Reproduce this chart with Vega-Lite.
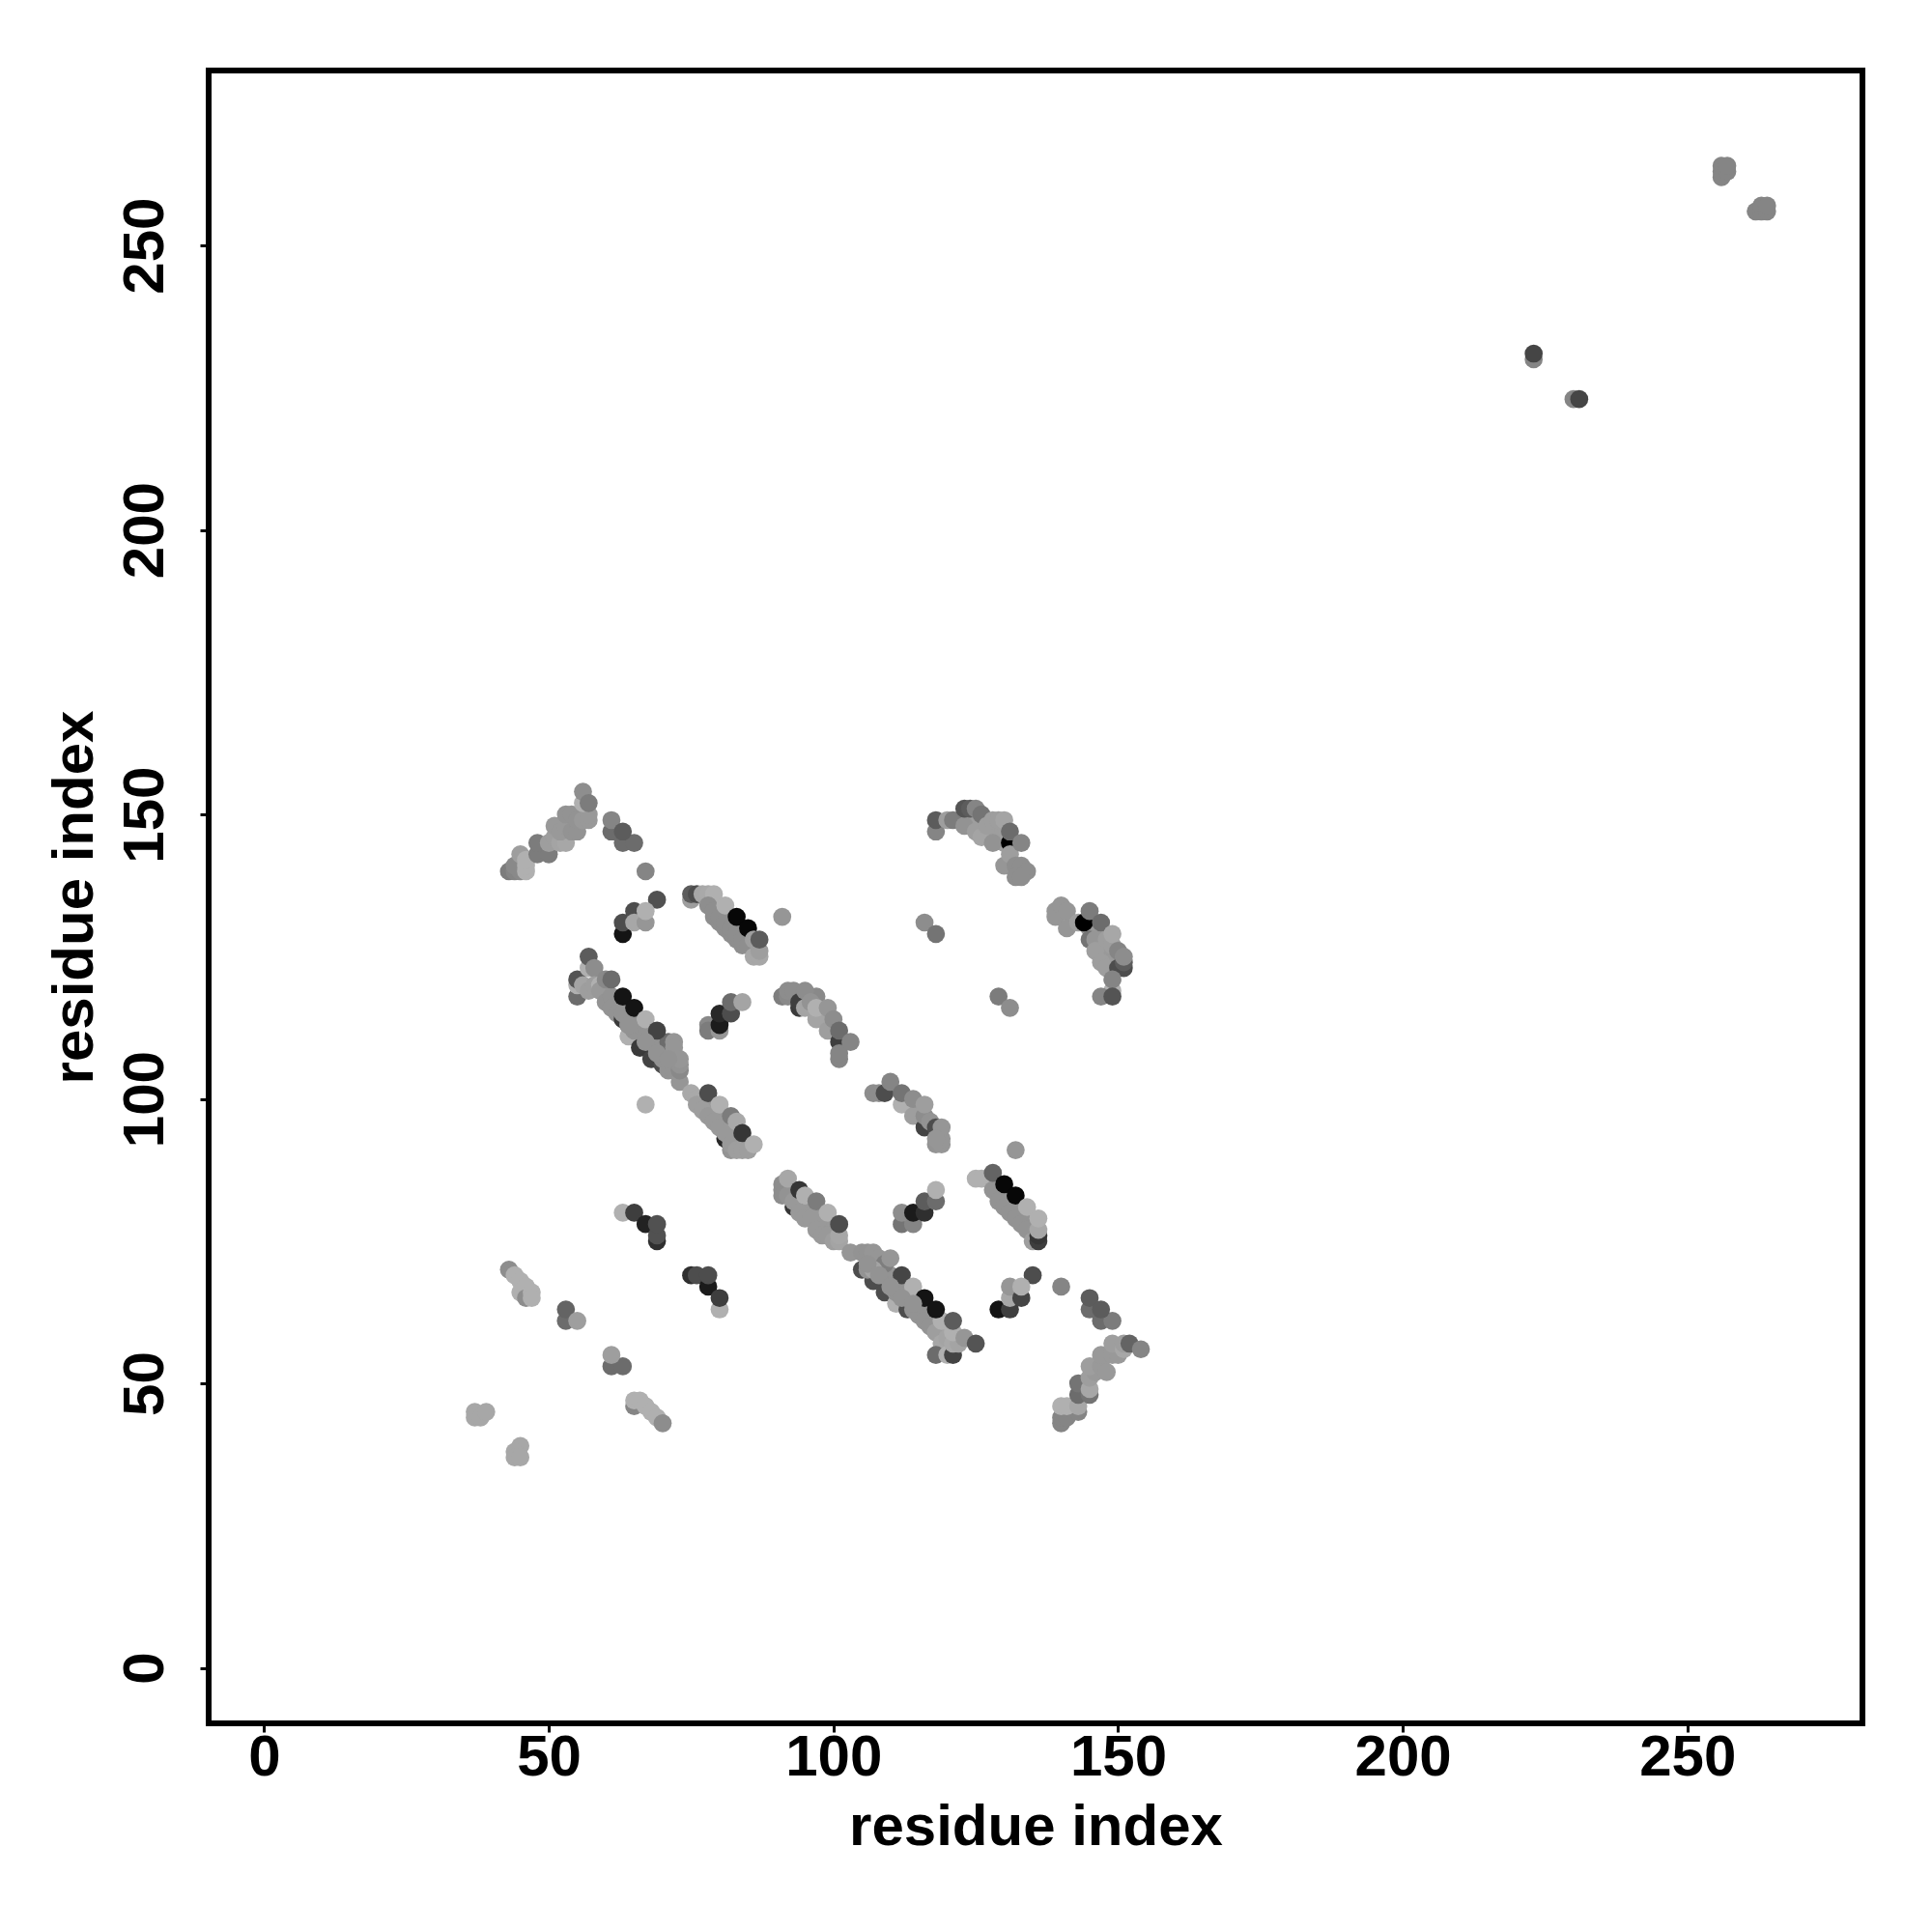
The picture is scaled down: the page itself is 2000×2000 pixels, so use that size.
{"$schema":"https://vega.github.io/schema/vega-lite/v6.json","width":1712,"height":1711,"autosize":{"type":"none"},"padding":{"left":216,"top":73,"right":72,"bottom":216},"background":"white","config":{"view":{"stroke":"#000000","strokeWidth":6}},"data":{"values":[
{"x":61,"y":118,"s":150},{"x":62,"y":117,"s":150},{"x":63,"y":116,"s":150},{"x":64,"y":115,"s":150},{"x":65,"y":114,"s":150},{"x":66,"y":113,"s":150},{"x":67,"y":112,"s":150},{"x":68,"y":111,"s":150},{"x":69,"y":110,"s":150},{"x":70,"y":109,"s":150},{"x":71,"y":108,"s":150},{"x":72,"y":107,"s":150},
{"x":77,"y":100,"s":155},{"x":78,"y":99,"s":155},{"x":79,"y":98,"s":155},{"x":80,"y":97,"s":155},{"x":81,"y":96,"s":155},{"x":82,"y":95,"s":155},{"x":83,"y":94,"s":155},{"x":84,"y":93,"s":155},
{"x":93,"y":84,"s":155},{"x":94,"y":83,"s":155},{"x":95,"y":82,"s":155},{"x":96,"y":81,"s":155},{"x":97,"y":80,"s":155},{"x":98,"y":79,"s":155},{"x":99,"y":78,"s":155},{"x":100,"y":77,"s":155},
{"x":109,"y":70,"s":150},{"x":110,"y":69,"s":150},{"x":111,"y":68,"s":150},{"x":112,"y":67,"s":150},{"x":113,"y":66,"s":150},{"x":114,"y":65,"s":150},{"x":115,"y":64,"s":150},{"x":116,"y":63,"s":150},{"x":117,"y":62,"s":150},{"x":118,"y":61,"s":150},{"x":108,"y":69,"s":150},{"x":109,"y":68,"s":150},{"x":112,"y":65,"s":150},{"x":115,"y":62,"s":150},{"x":118,"y":59,"s":160},
{"x":79,"y":132,"s":145},{"x":80,"y":131,"s":145},{"x":81,"y":130,"s":145},{"x":82,"y":129,"s":145},{"x":83,"y":128,"s":145},{"x":84,"y":127,"s":145},{"x":79,"y":134,"s":145},{"x":80,"y":133,"s":145},{"x":81,"y":132,"s":145},{"x":82,"y":131,"s":145},{"x":83,"y":130,"s":145},{"x":84,"y":129,"s":145},{"x":85,"y":128,"s":145},
{"x":129,"y":84,"s":150},{"x":130,"y":83,"s":150},{"x":131,"y":82,"s":150},{"x":132,"y":81,"s":150},{"x":133,"y":80,"s":150},{"x":134,"y":79,"s":150},{"x":135,"y":78,"s":150},
{"x":125,"y":149,"s":160},{"x":126,"y":148,"s":160},{"x":127,"y":147,"s":160},{"x":128,"y":147,"s":160},{"x":129,"y":146,"s":160},{"x":130,"y":145,"s":160},{"x":145,"y":130,"s":155},{"x":146,"y":129,"s":155},{"x":147,"y":128,"s":155},{"x":147,"y":126,"s":155},{"x":148,"y":125,"s":155},{"x":149,"y":124,"s":155},{"x":114,"y":99,"s":150},{"x":115,"y":98,"s":150},{"x":96,"y":118,"s":140},{"x":97,"y":118,"s":140},{"x":98,"y":115,"s":150},
{"x":43,"y":140,"s":128},{"x":44,"y":140,"s":135},{"x":45,"y":140,"s":140},{"x":44,"y":141,"s":140},{"x":45,"y":143,"s":160},{"x":46,"y":140,"s":176},{"x":46,"y":141,"s":176},{"x":46,"y":142,"s":176},{"x":48,"y":143,"s":128},{"x":50,"y":143,"s":128},{"x":48,"y":145,"s":128},{"x":50,"y":145,"s":160},{"x":51,"y":146,"s":160},{"x":52,"y":145,"s":165},{"x":53,"y":145,"s":168},{"x":51,"y":148,"s":155},{"x":52,"y":147,"s":155},{"x":53,"y":148,"s":155},{"x":54,"y":147,"s":150},{"x":55,"y":147,"s":150},{"x":53,"y":150,"s":150},{"x":54,"y":150,"s":150},{"x":55,"y":149,"s":150},{"x":56,"y":149,"s":155},{"x":57,"y":149,"s":155},{"x":57,"y":150,"s":155},{"x":56,"y":152,"s":176},{"x":56,"y":154,"s":145},{"x":57,"y":152,"s":128},
{"x":61,"y":147,"s":112},{"x":61,"y":149,"s":136},{"x":63,"y":145,"s":112},{"x":65,"y":145,"s":112},{"x":63,"y":147,"s":96},{"x":67,"y":140,"s":136},{"x":69,"y":135,"s":85},{"x":65,"y":133,"s":80},{"x":63,"y":129,"s":16},{"x":63,"y":131,"s":80},{"x":65,"y":131,"s":168},{"x":67,"y":131,"s":152},{"x":67,"y":133,"s":176},
{"x":75,"y":135,"s":160},{"x":75,"y":136,"s":96},{"x":76,"y":136,"s":80},{"x":77,"y":136,"s":168},{"x":78,"y":136,"s":170},{"x":79,"y":136,"s":176},{"x":78,"y":134,"s":145},{"x":79,"y":133,"s":145},{"x":80,"y":132,"s":145},{"x":81,"y":131,"s":145},{"x":82,"y":130,"s":145},{"x":83,"y":129,"s":145},{"x":84,"y":128,"s":145},{"x":85,"y":127,"s":145},{"x":81,"y":134,"s":176},{"x":83,"y":132,"s":5},{"x":85,"y":130,"s":5},{"x":86,"y":125,"s":168},{"x":87,"y":125,"s":168},{"x":87,"y":126,"s":160},{"x":86,"y":128,"s":160},{"x":87,"y":128,"s":96},{"x":91,"y":132,"s":152},
{"x":55,"y":118,"s":112},{"x":55,"y":120,"s":176},{"x":55,"y":121,"s":88},{"x":56,"y":120,"s":165},{"x":57,"y":119,"s":160},{"x":57,"y":123,"s":176},{"x":57,"y":125,"s":96},{"x":58,"y":123,"s":144},{"x":58,"y":120,"s":160},{"x":59,"y":120,"s":176},{"x":59,"y":119,"s":155},{"x":60,"y":121,"s":140},{"x":60,"y":117,"s":150},{"x":61,"y":118,"s":150},{"x":61,"y":121,"s":112},{"x":61,"y":116,"s":150},{"x":62,"y":115,"s":150},{"x":63,"y":114,"s":60},{"x":63,"y":115,"s":150},{"x":64,"y":113,"s":150},{"x":64,"y":111,"s":176},{"x":65,"y":112,"s":150},{"x":66,"y":109,"s":60},{"x":66,"y":113,"s":150},{"x":67,"y":111,"s":150},{"x":68,"y":107,"s":70},{"x":68,"y":110,"s":150},{"x":69,"y":109,"s":150},{"x":70,"y":106,"s":80},{"x":70,"y":107,"s":150},{"x":71,"y":105,"s":150},{"x":71,"y":110,"s":112},{"x":72,"y":105,"s":150},{"x":72,"y":107,"s":165},{"x":73,"y":103,"s":152},{"x":73,"y":105,"s":140},{"x":73,"y":106,"s":150},{"x":72,"y":110,"s":152},{"x":72,"y":109,"s":152},{"x":73,"y":107,"s":152},{"x":63,"y":118,"s":16},{"x":65,"y":116,"s":16},{"x":67,"y":114,"s":176},{"x":69,"y":112,"s":70},
{"x":75,"y":101,"s":170},{"x":76,"y":100,"s":170},{"x":76,"y":99,"s":160},{"x":77,"y":98,"s":160},{"x":78,"y":97,"s":155},{"x":79,"y":96,"s":155},{"x":80,"y":95,"s":155},{"x":81,"y":93,"s":40},{"x":81,"y":94,"s":155},{"x":82,"y":91,"s":150},{"x":82,"y":92,"s":155},{"x":83,"y":91,"s":160},{"x":84,"y":91,"s":160},{"x":85,"y":91,"s":160},{"x":78,"y":101,"s":80},{"x":80,"y":99,"s":176},{"x":82,"y":97,"s":128},{"x":83,"y":96,"s":170},{"x":84,"y":94,"s":56},{"x":86,"y":92,"s":176},{"x":67,"y":99,"s":176},
{"x":63,"y":80,"s":176},{"x":65,"y":80,"s":64},{"x":67,"y":78,"s":32},{"x":69,"y":75,"s":48},{"x":69,"y":76,"s":85},{"x":69,"y":78,"s":85},{"x":75,"y":69,"s":48},{"x":76,"y":69,"s":80},{"x":78,"y":67,"s":24},{"x":78,"y":69,"s":80},{"x":80,"y":63,"s":176},{"x":80,"y":65,"s":64},
{"x":43,"y":70,"s":144},{"x":44,"y":69,"s":176},{"x":45,"y":68,"s":176},{"x":46,"y":67,"s":176},{"x":45,"y":66,"s":176},{"x":46,"y":65,"s":144},{"x":47,"y":66,"s":176},{"x":47,"y":65,"s":176},{"x":53,"y":61,"s":112},{"x":53,"y":63,"s":104},{"x":55,"y":61,"s":160},{"x":61,"y":53,"s":112},{"x":63,"y":53,"s":112},{"x":61,"y":55,"s":160},{"x":65,"y":46,"s":136},{"x":65,"y":47,"s":176},{"x":66,"y":47,"s":176},{"x":67,"y":46,"s":176},{"x":68,"y":45,"s":176},{"x":69,"y":44,"s":176},{"x":70,"y":43,"s":144},{"x":37,"y":45,"s":168},{"x":37,"y":44,"s":168},{"x":38,"y":44,"s":168},{"x":39,"y":45,"s":168},{"x":45,"y":39,"s":168},{"x":44,"y":38,"s":168},{"x":44,"y":37,"s":168},{"x":45,"y":37,"s":168},
{"x":78,"y":113,"s":140},{"x":78,"y":112,"s":128},{"x":80,"y":112,"s":152},{"x":80,"y":113,"s":24},{"x":80,"y":115,"s":40},{"x":82,"y":115,"s":80},{"x":82,"y":117,"s":112},{"x":84,"y":117,"s":165},
{"x":118,"y":147,"s":136},{"x":118,"y":149,"s":96},{"x":120,"y":149,"s":160},{"x":121,"y":149,"s":128},{"x":123,"y":148,"s":150},{"x":123,"y":151,"s":88},{"x":124,"y":151,"s":96},{"x":125,"y":147,"s":160},{"x":125,"y":151,"s":136},{"x":126,"y":146,"s":165},{"x":126,"y":150,"s":120},{"x":127,"y":148,"s":160},{"x":128,"y":145,"s":150},{"x":128,"y":149,"s":160},{"x":129,"y":149,"s":160},{"x":131,"y":145,"s":0},{"x":130,"y":141,"s":152},{"x":131,"y":143,"s":160},{"x":130,"y":149,"s":165},{"x":131,"y":147,"s":112},{"x":133,"y":145,"s":136},{"x":132,"y":141,"s":145},{"x":133,"y":141,"s":145},{"x":134,"y":140,"s":145},{"x":132,"y":139,"s":145},{"x":133,"y":139,"s":145},
{"x":116,"y":131,"s":144},{"x":118,"y":129,"s":120},{"x":129,"y":118,"s":128},{"x":131,"y":116,"s":144},
{"x":139,"y":132,"s":152},{"x":139,"y":133,"s":152},{"x":140,"y":134,"s":152},{"x":141,"y":133,"s":152},{"x":141,"y":130,"s":152},{"x":143,"y":131,"s":160},{"x":144,"y":131,"s":0},{"x":145,"y":128,"s":120},{"x":146,"y":128,"s":152},{"x":146,"y":126,"s":160},{"x":145,"y":133,"s":128},{"x":147,"y":131,"s":112},{"x":147,"y":124,"s":160},{"x":148,"y":123,"s":160},{"x":148,"y":128,"s":160},{"x":149,"y":127,"s":160},{"x":149,"y":129,"s":168},{"x":151,"y":123,"s":80},{"x":150,"y":123,"s":80},{"x":151,"y":124,"s":96},{"x":150,"y":126,"s":136},{"x":151,"y":125,"s":144},{"x":149,"y":119,"s":176},{"x":149,"y":121,"s":136},{"x":147,"y":118,"s":136},{"x":149,"y":118,"s":88},
{"x":91,"y":118,"s":130},{"x":92,"y":118,"s":140},{"x":92,"y":119,"s":144},{"x":93,"y":119,"s":144},{"x":94,"y":116,"s":60},{"x":94,"y":117,"s":64},{"x":95,"y":116,"s":165},{"x":95,"y":119,"s":144},{"x":96,"y":117,"s":150},{"x":97,"y":114,"s":165},{"x":97,"y":116,"s":176},{"x":99,"y":112,"s":160},{"x":99,"y":116,"s":152},{"x":100,"y":114,"s":144},{"x":101,"y":110,"s":64},{"x":101,"y":107,"s":136},{"x":101,"y":108,"s":136},{"x":101,"y":112,"s":112},{"x":103,"y":110,"s":136},
{"x":107,"y":101,"s":144},{"x":108,"y":101,"s":144},{"x":109,"y":101,"s":80},{"x":110,"y":103,"s":136},{"x":112,"y":99,"s":176},{"x":112,"y":101,"s":120},{"x":114,"y":97,"s":160},{"x":114,"y":100,"s":144},{"x":116,"y":95,"s":70},{"x":116,"y":97,"s":144},{"x":116,"y":99,"s":160},{"x":117,"y":96,"s":150},{"x":118,"y":95,"s":80},{"x":118,"y":92,"s":150},{"x":119,"y":92,"s":152},{"x":119,"y":93,"s":152},{"x":119,"y":95,"s":152},{"x":118,"y":93,"s":152},
{"x":132,"y":91,"s":152},{"x":125,"y":86,"s":176},{"x":126,"y":86,"s":176},{"x":128,"y":84,"s":150},{"x":129,"y":82,"s":150},{"x":130,"y":81,"s":150},{"x":131,"y":80,"s":150},{"x":132,"y":79,"s":150},{"x":133,"y":78,"s":150},{"x":134,"y":77,"s":150},{"x":128,"y":87,"s":104},{"x":130,"y":85,"s":5},{"x":132,"y":83,"s":5},{"x":134,"y":81,"s":176},{"x":135,"y":75,"s":160},{"x":136,"y":75,"s":64},{"x":136,"y":76,"s":56},{"x":136,"y":77,"s":168},{"x":136,"y":79,"s":176},
{"x":112,"y":78,"s":120},{"x":114,"y":78,"s":136},{"x":112,"y":80,"s":144},{"x":114,"y":80,"s":24},{"x":116,"y":80,"s":48},{"x":116,"y":82,"s":96},{"x":118,"y":82,"s":112},{"x":118,"y":84,"s":176},
{"x":135,"y":69,"s":80},{"x":140,"y":67,"s":136},{"x":129,"y":63,"s":16},{"x":131,"y":63,"s":64},{"x":131,"y":65,"s":168},{"x":131,"y":67,"s":152},{"x":133,"y":65,"s":72},{"x":133,"y":67,"s":176},{"x":145,"y":63,"s":112},{"x":145,"y":65,"s":96},{"x":147,"y":61,"s":112},{"x":149,"y":61,"s":128},{"x":147,"y":63,"s":96},
{"x":140,"y":43,"s":136},{"x":140,"y":44,"s":136},{"x":141,"y":44,"s":136},{"x":143,"y":45,"s":136},{"x":140,"y":46,"s":176},{"x":141,"y":46,"s":176},{"x":143,"y":46,"s":168},{"x":143,"y":48,"s":112},{"x":145,"y":48,"s":120},{"x":143,"y":50,"s":120},{"x":145,"y":49,"s":168},{"x":145,"y":51,"s":160},{"x":146,"y":52,"s":155},{"x":145,"y":53,"s":160},{"x":147,"y":53,"s":155},{"x":148,"y":52,"s":155},{"x":147,"y":55,"s":155},{"x":149,"y":55,"s":155},{"x":150,"y":55,"s":155},{"x":149,"y":57,"s":160},{"x":151,"y":56,"s":168},{"x":151,"y":57,"s":160},{"x":152,"y":57,"s":104},{"x":154,"y":56,"s":136},
{"x":91,"y":85,"s":144},{"x":91,"y":84,"s":144},{"x":91,"y":83,"s":144},{"x":93,"y":81,"s":56},{"x":92,"y":83,"s":150},{"x":93,"y":82,"s":155},{"x":94,"y":80,"s":155},{"x":95,"y":79,"s":155},{"x":96,"y":79,"s":155},{"x":97,"y":77,"s":155},{"x":98,"y":76,"s":155},{"x":99,"y":76,"s":155},{"x":100,"y":75,"s":160},{"x":101,"y":75,"s":165},{"x":101,"y":76,"s":168},{"x":92,"y":86,"s":168},{"x":94,"y":84,"s":56},{"x":95,"y":83,"s":176},{"x":97,"y":82,"s":128},{"x":99,"y":80,"s":176},{"x":101,"y":78,"s":80},
{"x":103,"y":73,"s":152},{"x":105,"y":70,"s":80},{"x":107,"y":68,"s":80},{"x":109,"y":66,"s":80},{"x":105,"y":73,"s":150},{"x":106,"y":73,"s":150},{"x":107,"y":73,"s":152},{"x":108,"y":72,"s":152},{"x":109,"y":71,"s":130},{"x":110,"y":72,"s":152},{"x":106,"y":70,"s":150},{"x":107,"y":70,"s":165},{"x":110,"y":68,"s":150},{"x":111,"y":64,"s":176},{"x":111,"y":66,"s":150},{"x":113,"y":63,"s":80},{"x":113,"y":65,"s":150},{"x":114,"y":63,"s":150},{"x":115,"y":62,"s":150},{"x":116,"y":61,"s":150},{"x":117,"y":60,"s":150},{"x":118,"y":59,"s":160},{"x":119,"y":57,"s":168},{"x":120,"y":58,"s":165},{"x":119,"y":61,"s":176},{"x":112,"y":69,"s":72},{"x":114,"y":67,"s":176},{"x":116,"y":65,"s":16},{"x":118,"y":63,"s":16},{"x":118,"y":55,"s":112},{"x":120,"y":55,"s":176},{"x":121,"y":55,"s":70},{"x":121,"y":57,"s":170},{"x":122,"y":57,"s":165},{"x":121,"y":59,"s":176},{"x":121,"y":61,"s":96},{"x":123,"y":58,"s":152},{"x":125,"y":57,"s":88},
{"x":106,"y":71,"s":150},{"x":108,"y":69,"s":150},{"x":110,"y":67,"s":150},{"x":112,"y":65,"s":150},{"x":114,"y":64,"s":150},{"x":64,"y":113,"s":150},{"x":67,"y":110,"s":150},{"x":69,"y":108,"s":150},{"x":71,"y":107,"s":150},
{"x":223,"y":230,"s":136},{"x":223,"y":231,"s":72},{"x":230,"y":223,"s":136},{"x":231,"y":223,"s":72},{"x":256,"y":262,"s":136},{"x":256,"y":263,"s":136},{"x":256,"y":264,"s":136},{"x":257,"y":263,"s":136},{"x":257,"y":264,"s":136},{"x":262,"y":256,"s":136},{"x":263,"y":256,"s":136},{"x":263,"y":257,"s":136},{"x":264,"y":256,"s":136},{"x":264,"y":257,"s":136}
]},"mark":{"type":"point","filled":true,"shape":"circle","size":350,"opacity":1},"encoding":{"x":{"field":"x","type":"quantitative","scale":{"domain":[-9.75,280.75],"nice":false,"zero":false},"axis":{"title":"residue index","values":[0,50,100,150,200,250],"grid":false,"domain":false,"ticks":true,"tickColor":"#000000","tickWidth":3,"tickSize":9,"labelPadding":-3,"labelFont":"Liberation Sans","labelFontWeight":"bold","labelFontSize":60,"labelColor":"#000000","titleFont":"Liberation Sans","titleFontWeight":"bold","titleFontSize":60,"titleColor":"#000000","titlePadding":13}},"y":{"field":"y","type":"quantitative","scale":{"domain":[-9.75,280.75],"nice":false,"zero":false},"axis":{"title":"residue index","values":[0,50,100,150,200,250],"grid":false,"domain":false,"ticks":true,"tickColor":"#000000","tickWidth":3,"tickSize":9,"labelPadding":26,"labelAngle":-90,"labelAlign":"center","labelBaseline":"bottom","labelFont":"Liberation Sans","labelFontWeight":"bold","labelFontSize":60,"labelColor":"#000000","titleFont":"Liberation Sans","titleFontWeight":"bold","titleFontSize":60,"titleColor":"#000000","titlePadding":12}},"color":{"field":"s","type":"quantitative","legend":null,"scale":{"domain":[0,180],"range":["#000000","#b4b4b4"]}}}}
